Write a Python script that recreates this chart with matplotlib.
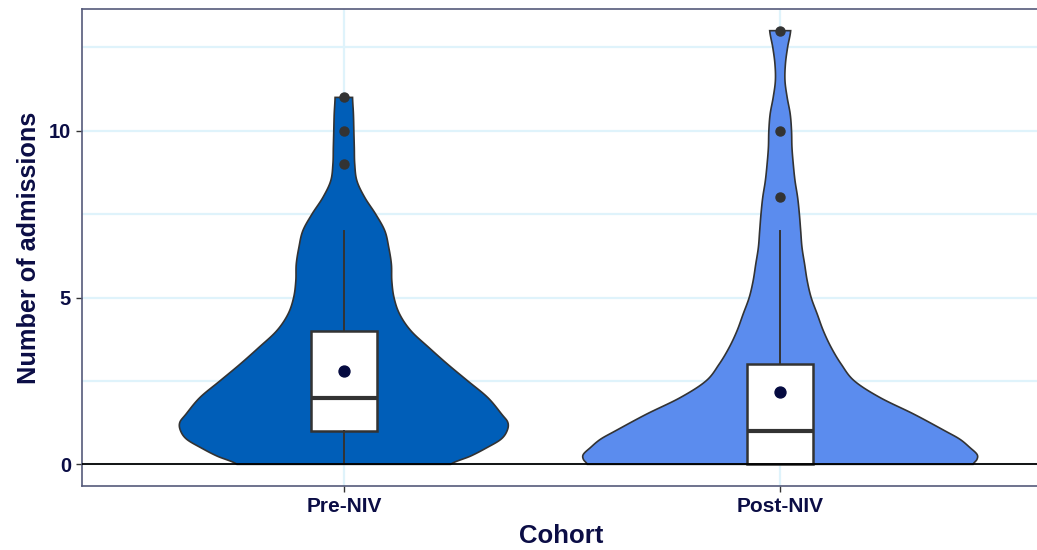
import numpy as np
import matplotlib
matplotlib.use('Agg')
import matplotlib.pyplot as plt

# data
cohorts = ['Pre-NIV', 'Post-NIV']
q1 = [1, 0]
medians = [2, 1]
q3 = [4, 3]
whis_lo = [0, 0]
whis_hi = [7, 7]
means = [2.8, 2.18]
outliers = [[9, 10, 11], [8, 10, 13]]

# violin outline (scaled density, half width)
pre_levels = [0.0, 0.25, 0.5, 0.75, 1.0, 1.25, 1.5, 2.0, 2.5, 3.0, 3.5, 4.0, 4.5,
              5.0, 5.5, 6.0, 6.5, 7.0, 7.5, 8.0, 8.5, 9.0, 9.5, 10.0, 10.5, 11.0]
pre_density = [0.245, 0.291, 0.328, 0.360, 0.374, 0.376, 0.362, 0.330, 0.284, 0.238,
               0.195, 0.154, 0.128, 0.115, 0.110, 0.109, 0.103, 0.094, 0.073, 0.048,
               0.030, 0.025, 0.024, 0.023, 0.022, 0.020]
post_levels = [0.0, 0.15, 0.3, 0.5, 0.75, 1.0, 1.5, 2.0, 2.5, 3.0, 3.5, 4.0, 4.5,
               5.0, 5.5, 6.0, 6.5, 7.0, 7.5, 8.0, 8.5, 9.0, 9.5, 10.0, 10.5, 11.0,
               11.5, 12.0, 12.5, 13.0]
post_density = [0.442, 0.451, 0.451, 0.435, 0.412, 0.378, 0.307, 0.229, 0.170, 0.140,
                0.117, 0.099, 0.085, 0.071, 0.062, 0.056, 0.050, 0.047, 0.044, 0.040,
                0.034, 0.030, 0.027, 0.026, 0.023, 0.016, 0.011, 0.012, 0.017, 0.024]

fills = ['#005EB8', '#5B8CEE']
navy = '#0B0D45'
font = ['Liberation Sans', 'DejaVu Sans']


def smooth(y, w, n=12):
    # catmull-rom curve through the read points, for a rounder outline
    y = np.asarray(y, float)
    w = np.asarray(w, float)
    py = np.concatenate([[2*y[0]-y[1]], y, [2*y[-1]-y[-2]]])
    pw = np.concatenate([[w[0]], w, [w[-1]]])
    ys, ws = [], []
    t = np.linspace(0, 1, n, endpoint=False)
    for k in range(1, len(py) - 2):
        for arr, out in ((py, ys), (pw, ws)):
            p0, p1, p2, p3 = arr[k-1], arr[k], arr[k+1], arr[k+2]
            out.extend(0.5*((2*p1) + (-p0+p2)*t + (2*p0-5*p1+4*p2-p3)*t**2
                            + (-p0+3*p1-3*p2+p3)*t**3))
    ys.append(y[-1])
    ws.append(w[-1])
    return np.array(ys), np.array(ws)


fig = plt.figure(figsize=(10.37, 5.5), dpi=100)
ax = fig.add_axes([82/1037, 64/550, 960/1037, 477/550])

pos = [1, 2]
profiles = [(pre_levels, pre_density), (post_levels, post_density)]
for i in range(2):
    lv, d = smooth(profiles[i][0], profiles[i][1])
    xs = np.concatenate([pos[i] - d, (pos[i] + d)[::-1]])
    ys = np.concatenate([lv, lv[::-1]])
    ax.fill(xs, ys, facecolor=fills[i], edgecolor='#333333', lw=1.2, zorder=2)

stats = []
for i in range(2):
    stats.append({'label': cohorts[i], 'q1': q1[i], 'med': medians[i], 'q3': q3[i],
                  'whislo': whis_lo[i], 'whishi': whis_hi[i], 'fliers': outliers[i]})
ax.bxp(stats, positions=pos, widths=0.15, patch_artist=True, showcaps=False,
       boxprops=dict(facecolor='white', edgecolor='#333333', lw=1.8),
       medianprops=dict(color='#333333', lw=3.0),
       whiskerprops=dict(color='#333333', lw=1.4),
       flierprops=dict(marker='o', markerfacecolor='#333333', markeredgecolor='#333333',
                       markersize=6.5),
       zorder=3)
ax.scatter(pos, means, s=62, color='#050A40', zorder=4)

ax.axhline(0, color='black', lw=1.3, zorder=5)

ax.set_xlim(0.4, 2.6)
ax.set_ylim(-0.65, 13.65)
ax.set_xticks(pos)
ax.set_xticklabels(cohorts)
ax.set_yticks([0, 5, 10])
ax.set_yticks([2.5, 7.5, 12.5], minor=True)
ax.grid(True, which='major', color='#DFF3FB', lw=1.6, zorder=0)
ax.grid(True, which='minor', axis='y', color='#DFF3FB', lw=1.6, zorder=0)
ax.set_axisbelow(True)
ax.tick_params(axis='both', which='major', direction='out', length=4, width=1,
               color='#333333', pad=4)
ax.tick_params(axis='y', which='minor', length=0)
for lab in ax.get_yticklabels():
    lab.set_family(font)
    lab.set_fontweight('bold')
    lab.set_color(navy)
    lab.set_fontsize(14.5)
for lab in ax.get_xticklabels():
    lab.set_family(font)
    lab.set_fontweight('bold')
    lab.set_color(navy)
    lab.set_fontsize(15)
for sp in ax.spines.values():
    sp.set_color('#555A7A')
    sp.set_linewidth(1.2)

fig.text(561/1037, 1 - 536/550, 'Cohort', ha='center', va='center', family=font,
         fontweight='bold', fontsize=18.5, color=navy)
fig.text(29/1037, 1 - 248/550, 'Number of admissions', ha='center', va='center',
         rotation=90, family=font, fontweight='bold', fontsize=18.2, color=navy)

fig.savefig('out.png', dpi=100)
